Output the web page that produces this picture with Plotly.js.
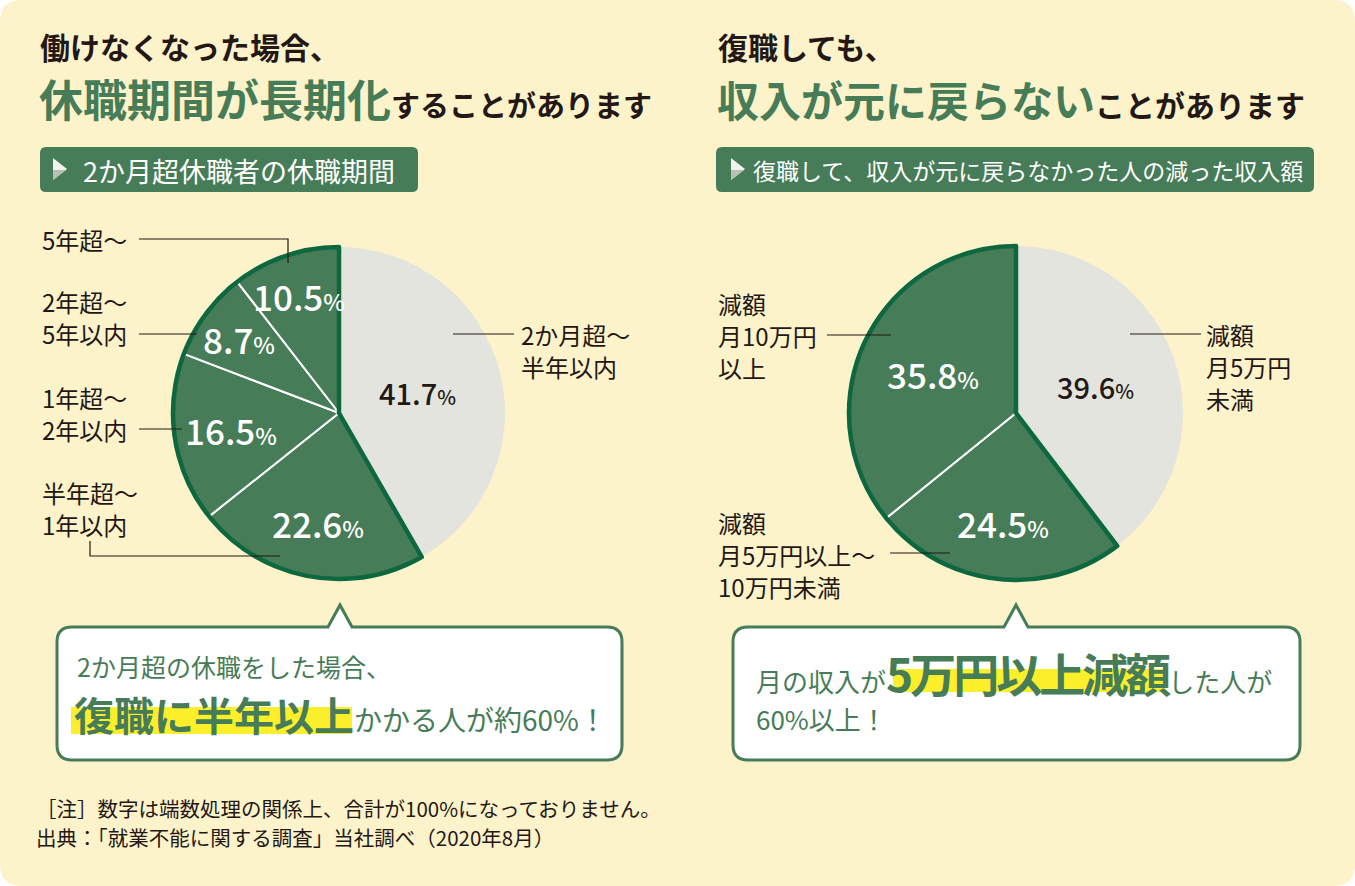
<!DOCTYPE html>
<html><head><meta charset="utf-8">
<script src="https://cdn.plot.ly/plotly-3.0.1.min.js"></script>
<style>html,body{margin:0;padding:0;background:#fff;}#chart{width:1355px;height:886px;}</style>
</head><body><div id="chart"></div>
<script>
// ---------- DATA ----------
const leftCategories = ['2か月超〜半年以内', '半年超〜1年以内', '1年超〜2年以内', '2年超〜5年以内', '5年超〜'];
const leftValues = [41.7, 22.6, 16.5, 8.7, 10.5];
const leftLabelLines = [['2か月超〜', '半年以内'], ['半年超〜', '1年以内'], ['1年超〜', '2年以内'], ['2年超〜', '5年以内'], ['5年超〜']];

const rightCategories = ['減額 月5万円未満', '減額 月5万円以上〜10万円未満', '減額 月10万円以上'];
const rightValues = [39.6, 24.5, 35.8];
const rightLabelLines = [['減額', '月5万円', '未満'], ['減額', '月5万円以上〜', '10万円未満'], ['減額', '月10万円', '以上']];

const leftHead1 = '働けなくなった場合、';
const leftHead2a = '休職期間が長期化';
const leftHead2b = 'することがあります';
const leftSub = '2か月超休職者の休職期間';
const rightHead1 = '復職しても、';
const rightHead2a = '収入が元に戻らない';
const rightHead2b = 'ことがあります';
const rightSub = '復職して、収入が元に戻らなかった人の減った収入額';
const leftCall1 = '2か月超の休職をした場合、';
const leftCall2a = '復職に半年以上';
const leftCall2b = 'かかる人が約60%！';
const rightCall1a = '月の収入が';
const rightCall1b = '5万円以上減額';
const rightCall1c = 'した人が';
const rightCall2 = '60%以上！';
const notes = ['［注］数字は端数処理の関係上、合計が100%になっておりません。', '出典：「就業不能に関する調査」当社調べ（2020年8月）'];

// ---------- STYLE / LAYOUT ----------
const W = 1355, H = 886;
const CREAM = '#fdf3ca', GREEN = '#477c58', DKGREEN = '#0d6840', GRAY = '#e4e4de', INK = '#231815', YEL = '#fbef2c';
const FONT = '"Noto Sans CJK JP", "Noto Sans", sans-serif';
const leftPie = {cx: 339, cy: 413, r: 166};
const rightPie = {cx: 1016, cy: 413, r: 167};
const leftFrac = [0.49, 0.67, 0.66, 0.75, 0.75];
const rightFrac = [0.50, 0.66, 0.55];

function domainOf(p) {
  return {x: [(p.cx - p.r) / W, (p.cx + p.r) / W], y: [(H - p.cy - p.r) / H, (H - p.cy + p.r) / H]};
}
function rr(x0, y0, x1, y1, r) {
  return `M${x0 + r},${y0} L${x1 - r},${y0} Q${x1},${y0} ${x1},${y0 + r} L${x1},${y1 - r} Q${x1},${y1} ${x1 - r},${y1} L${x0 + r},${y1} Q${x0},${y1} ${x0},${y1 - r} L${x0},${y0 + r} Q${x0},${y0} ${x0 + r},${y0} Z`;
}
function callout(x0, y0, x1, y1, r, ax, ay, hw) {
  return `M${x0 + r},${y0} L${ax - hw},${y0} L${ax},${ay} L${ax + hw},${y0} L${x1 - r},${y0} Q${x1},${y0} ${x1},${y0 + r} L${x1},${y1 - r} Q${x1},${y1} ${x1 - r},${y1} L${x0 + r},${y1} Q${x0},${y1} ${x0},${y1 - r} L${x0},${y0 + r} Q${x0},${y0} ${x0 + r},${y0} Z`;
}
const sum = a => a.reduce((s, v) => s + v, 0);

function pieTraces(values, cats, geo) {
  const dom = domainOf(geo);
  const base = {
    type: 'pie', values: values, labels: cats, sort: false, direction: 'clockwise', rotation: 0,
    textinfo: 'none', hoverinfo: 'skip', showlegend: false, domain: dom,
    marker: {colors: values.map((v, i) => i === 0 ? GRAY : GREEN),
             line: {color: values.map((v, i) => i === 0 ? 'rgba(0,0,0,0)' : '#ffffff'), width: values.map((v, i) => i === 0 ? 0 : 2)}}
  };
  const outline = {
    type: 'pie', values: [values[0], sum(values.slice(1))], labels: [cats[0] + ' ', 'その他 ' + cats[1]],
    sort: false, direction: 'clockwise', rotation: 0, textinfo: 'none', hoverinfo: 'skip', showlegend: false, domain: dom,
    marker: {colors: ['rgba(0,0,0,0)', 'rgba(0,0,0,0)'], line: {color: ['rgba(0,0,0,0)', DKGREEN], width: [0, 4.5]}}
  };
  return [base, outline];
}

function pctAnnotations(values, geo, fracs) {
  const tot = sum(values);
  let cum = 0;
  return values.map((v, i) => {
    const mid = (cum + v / 2) / tot * 2 * Math.PI;
    cum += v;
    const d = fracs[i] * geo.r;
    const dark = i === 0;
    const big = dark ? 29 : 35, small = dark ? 20 : 23;
    return {
      x: geo.cx + d * Math.sin(mid), y: geo.cy - d * Math.cos(mid), xref: 'x', yref: 'y',
      text: `${v.toFixed(1)}<span style="font-size:${small}px">%</span>`, showarrow: false,
      xanchor: 'center', yanchor: 'middle',
      font: {family: FONT, size: big, color: dark ? INK : '#ffffff', weight: 500}
    };
  });
}

function txt(x, y, text, size, color, opts) {
  return Object.assign({x: x, y: y, xref: 'x', yref: 'y', text: text, showarrow: false, xanchor: 'left', yanchor: 'middle',
    font: {family: FONT, size: size, color: color}}, opts || {});
}
function labelLines(lines, x, y0, step, anchor) {
  return lines.map((t, i) => txt(x, y0 + i * step, t, 24, INK, {xanchor: anchor || 'left'}));
}
const boldFont = s => ({font: {family: FONT, size: s, color: INK, weight: 'bold'}});

const annotations = [
  txt(38, 46, leftHead1, 30, INK, boldFont(30)),
  txt(37, 98, `<span style="color:${GREEN};font-size:44px">${leftHead2a}</span>${leftHead2b}`, 29, INK, boldFont(29)),
  txt(716, 46, rightHead1, 30, INK, boldFont(30)),
  txt(715, 98, `<span style="color:${GREEN};font-size:42px">${rightHead2a}</span>${rightHead2b}`, 30, INK, boldFont(30)),
  txt(81, 170, leftSub, 27, '#ffffff'),
  txt(751, 170, rightSub, 23, '#ffffff'),
  ...labelLines(leftLabelLines[4], 40, 239, 32),
  ...labelLines(leftLabelLines[3], 40, 301, 32),
  ...labelLines(leftLabelLines[2], 40, 397, 32),
  ...labelLines(leftLabelLines[1], 40, 492, 32),
  ...labelLines(leftLabelLines[0], 519, 334, 32),
  ...labelLines(rightLabelLines[2], 716, 303, 32),
  ...labelLines(rightLabelLines[0], 1204, 334, 32),
  ...labelLines(rightLabelLines[1], 716, 522, 32),
  ...pctAnnotations(leftValues, leftPie, leftFrac),
  ...pctAnnotations(rightValues, rightPie, rightFrac),
  txt(75, 666, leftCall1, 25, GREEN),
  txt(72, 714, `<span style="font-size:40px;font-weight:bold">${leftCall2a}</span>${leftCall2b}`, 28, GREEN),
  txt(754, 672, `${rightCall1a}<span style="font-size:46px;font-weight:bold;letter-spacing:-3px">${rightCall1b}</span>${rightCall1c}`, 26, GREEN),
  txt(754, 718, rightCall2, 26, GREEN),
  txt(34, 808, notes[0], 20.5, INK),
  txt(34, 837, notes[1], 20.5, INK)
];

const lineStyle = {color: INK, width: 1.2};
const shapes = [
  {type: 'path', xref: 'x', yref: 'y', path: rr(0, 0, W, H, 22), fillcolor: CREAM, line: {width: 0}, layer: 'below'},
  {type: 'path', xref: 'x', yref: 'y', path: rr(40, 147, 418, 192, 6), fillcolor: GREEN, line: {width: 0}, layer: 'below'},
  {type: 'path', xref: 'x', yref: 'y', path: rr(716, 147, 1314, 192, 6), fillcolor: GREEN, line: {width: 0}, layer: 'below'},
  {type: 'path', xref: 'x', yref: 'y', path: 'M53,158 L67,169 L53,180 Z', fillcolor: '#f2f2ee', line: {width: 0}},
  {type: 'path', xref: 'x', yref: 'y', path: 'M53,170 L66,170 L53,180 Z', fillcolor: '#b9bfb5', line: {width: 0}},
  {type: 'path', xref: 'x', yref: 'y', path: 'M731,158 L745,169 L731,180 Z', fillcolor: '#f2f2ee', line: {width: 0}},
  {type: 'path', xref: 'x', yref: 'y', path: 'M731,170 L744,170 L731,180 Z', fillcolor: '#b9bfb5', line: {width: 0}},
  {type: 'path', xref: 'x', yref: 'y', path: callout(57, 627, 622, 760, 15, 340, 605, 12), fillcolor: '#ffffff', line: {color: GREEN, width: 3}},
  {type: 'path', xref: 'x', yref: 'y', path: callout(733, 627, 1300, 760, 15, 1016, 605, 12), fillcolor: '#ffffff', line: {color: GREEN, width: 3}},
  {type: 'rect', xref: 'x', yref: 'y', x0: 71, x1: 352, y0: 707, y1: 734, fillcolor: YEL, line: {width: 0}},
  {type: 'rect', xref: 'x', yref: 'y', x0: 893, x1: 1166, y0: 669, y1: 692, fillcolor: YEL, line: {width: 0}},
  // leader lines
  {type: 'path', xref: 'x', yref: 'y', path: 'M139,239 H288 V263', line: lineStyle},
  {type: 'path', xref: 'x', yref: 'y', path: 'M139,334 H197', line: lineStyle},
  {type: 'path', xref: 'x', yref: 'y', path: 'M139,429 H182', line: lineStyle},
  {type: 'path', xref: 'x', yref: 'y', path: 'M90,541 V556 H280', line: lineStyle},
  {type: 'path', xref: 'x', yref: 'y', path: 'M453,334 H514', line: lineStyle},
  {type: 'path', xref: 'x', yref: 'y', path: 'M827,335 H891', line: lineStyle},
  {type: 'path', xref: 'x', yref: 'y', path: 'M1130,334 H1201', line: lineStyle},
  {type: 'path', xref: 'x', yref: 'y', path: 'M890,553 H950', line: lineStyle}
];

const traces = [
  {type: 'scatter', x: [], y: [], hoverinfo: 'skip', showlegend: false},
  ...pieTraces(leftValues, leftCategories, leftPie),
  ...pieTraces(rightValues, rightCategories, rightPie)
];

const layout = {
  width: W, height: H, margin: {l: 0, r: 0, t: 0, b: 0, pad: 0},
  paper_bgcolor: '#ffffff', plot_bgcolor: 'rgba(0,0,0,0)', showlegend: false,
  xaxis: {range: [0, W], visible: false, fixedrange: true},
  yaxis: {range: [H, 0], visible: false, fixedrange: true},
  shapes: shapes, annotations: annotations, font: {family: FONT}
};
Plotly.newPlot('chart', traces, layout, {staticPlot: true, displayModeBar: false});
</script></body></html>
